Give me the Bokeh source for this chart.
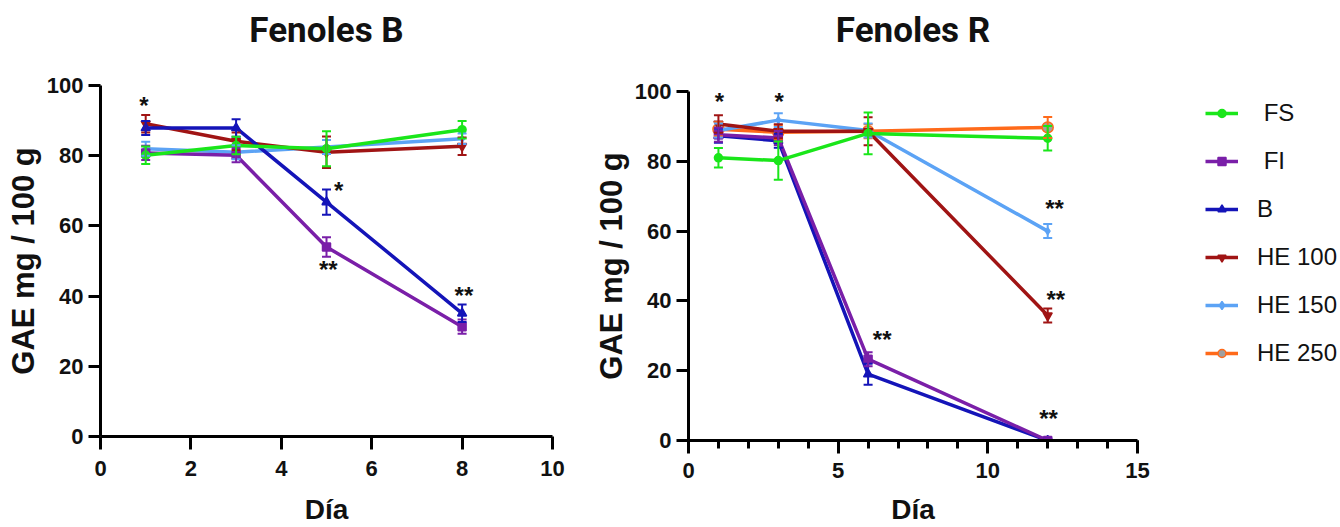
import math
from bokeh.plotting import figure
from bokeh.models import (ColumnDataSource, Whisker, TeeHead, Legend, LegendItem,
                          FixedTicker, SingleIntervalTicker, Range1d)
from bokeh.layouts import row, column
from bokeh.embed import file_html
from bokeh.resources import INLINE
from bokeh.core.properties import value

# ---------------- data ----------------
series = ["FS", "FI", "B", "HE 100", "HE 150", "HE 250"]
legend_labels = [" FS", " FI", "B", "HE 100", "HE 150", "HE 250"]

# Fenoles B (days 1, 3, 5, 8)
days_b = [1, 3, 5, 8]
fs_b = [80.1, 82.9, 82.0, 87.4]
fs_b_err = [2.5, 2.5, 5.0, 2.5]
fi_b = [80.8, 80.1, 54.0, 31.3]
fi_b_err = [2.0, 2.0, 2.8, 2.0]
b_b = [87.9, 87.9, 66.8, 35.1]
b_b_err = [2.0, 2.5, 3.6, 2.5]
he100_b = [89.1, 84.1, 81.0, 82.7]
he100_b_err = [2.5, 2.5, 4.5, 2.5]
he150_b = [82.0, 81.0, 82.5, 84.8]
he150_b_err = [2.0, 2.0, 2.0, 1.5]

# Fenoles R (days 1, 3, 6, 12)
days_r = [1, 3, 6, 12]
fs_r = [81.0, 80.2, 88.0, 86.6]
fs_r_err = [2.8, 5.5, 6.0, 3.5]
fi_r = [87.6, 86.7, 23.3, 0.0]
fi_r_err = [2.0, 2.0, 2.0, 0.5]
b_r = [87.3, 85.9, 19.0, 0.0]
b_r_err = [2.0, 2.0, 3.0, 0.5]
he100_r = [90.7, 88.6, 88.6, 35.8]
he100_r_err = [2.5, 2.0, 4.0, 2.0]
he150_r = [88.8, 91.8, 88.8, 60.0]
he150_r_err = [2.0, 2.0, 2.0, 2.0]
he250_r = [89.2, 88.3, 88.6, 89.7]
he250_r_err = [2.0, 2.0, 2.0, 3.0]

# significance marks
marks_b_text = ["*", "*", "**", "**"]
marks_b_x = [0.96, 5.27, 5.04, 8.04]
marks_b_y = [94.2, 70.0, 47.6, 40.2]
marks_r_text = ["*", "*", "**", "**", "**", "**"]
marks_r_x = [1.03, 3.03, 12.23, 12.27, 6.47, 12.03]
marks_r_y = [97.2, 97.2, 66.6, 40.3, 28.9, 6.3]

colors = {"FS": "#1AE61A", "FI": "#7A1FA8", "B": "#1414B8",
          "HE 100": "#A01414", "HE 150": "#5CA3F5", "HE 250": "#FF6A1A"}
markers = {"FS": ("circle", 8), "FI": ("square", 8), "B": ("triangle", 9),
           "HE 100": ("inverted_triangle", 9), "HE 150": ("diamond", 7),
           "HE 250": ("circle", 11)}

FONT = "Liberation Sans"
TOP_H = 70
LOW_H = 527 - TOP_H


def blank(p):
    p.xgrid.visible = False
    p.ygrid.visible = False
    p.outline_line_color = None


def title_fig(text, width, left, right):
    t = figure(width=width, height=TOP_H, title=text, x_range=Range1d(0, 1),
               y_range=Range1d(0, 1), x_axis_location=None, y_axis_location=None,
               output_backend="svg", toolbar_location=None,
               min_border_left=left, min_border_right=right,
               min_border_top=0, min_border_bottom=0)
    blank(t)
    t.title.text_font = "Roboto"
    t.title.text_font_size = "35px"
    t.title.text_font_style = "bold"
    t.title.align = "center"
    t.title.text_color = "#111111"
    t.title.standoff = 15
    return t


def style(p, xticker, tick_std, lab_std):
    blank(p)
    for ax in (p.xaxis[0], p.yaxis[0]):
        ax.axis_line_width = 3
        ax.major_tick_line_width = 3
        ax.minor_tick_line_width = 3
        ax.major_tick_in = 0
        ax.minor_tick_in = 0
        ax.major_label_text_font = FONT
        ax.major_label_text_font_size = "22px"
        ax.major_label_text_font_style = "bold"
        ax.major_label_text_color = "#111111"
        ax.axis_label_text_font = FONT
        ax.axis_label_text_font_style = "bold"
        ax.axis_label_text_color = "#111111"
    p.yaxis[0].ticker = FixedTicker(ticks=[0, 20, 40, 60, 80, 100])
    p.yaxis[0].major_tick_out = 12
    p.yaxis[0].major_label_standoff = 5
    p.yaxis[0].axis_label = "GAE mg / 100 g"
    p.yaxis[0].axis_label_text_font_size = "31px"
    p.yaxis[0].axis_label_standoff = 3
    p.yaxis[0].minor_tick_line_color = None
    p.xaxis[0].ticker = xticker
    p.xaxis[0].major_tick_out = 13
    p.xaxis[0].minor_tick_out = 8
    p.xaxis[0].major_label_standoff = tick_std
    p.xaxis[0].axis_label = "Día"
    p.xaxis[0].axis_label_text_font_size = "28px"
    p.xaxis[0].axis_label_standoff = lab_std


def draw_series(p, name, xs, ys, errs):
    c = colors[name]
    lower = [y - e for y, e in zip(ys, errs)]
    upper = [y + e for y, e in zip(ys, errs)]
    src = ColumnDataSource(dict(x=xs, y=ys, lower=lower, upper=upper))
    w = Whisker(source=src, base="x", upper="upper", lower="lower",
                line_color=c, line_width=2, level="glyph",
                upper_head=TeeHead(size=9, line_color=c, line_width=2),
                lower_head=TeeHead(size=9, line_color=c, line_width=2))
    p.add_layout(w)
    p.line("x", "y", source=src, line_color=c, line_width=3.5)
    m, s = markers[name]
    fill = "#A0A0A0" if name == "HE 250" else c
    p.scatter("x", "y", source=src, marker=m, size=s, fill_color=fill,
              line_color=c, line_width=1.5)


def draw_marks(p, xs, ys, texts):
    src = ColumnDataSource(dict(x=xs, y=ys, t=texts))
    p.text("x", "y", text="t", source=src, text_align="center",
           text_baseline="middle", text_font=value(FONT),
           text_font_size="24px", text_font_style="bold", text_color="#111111")


# ---------------- left: Fenoles B ----------------
t1 = title_fig("Fenoles B", 590, 100, 38)
p1 = figure(width=590, height=LOW_H, x_range=Range1d(0, 10), y_range=Range1d(0, 100),
            output_backend="svg", toolbar_location=None,
            min_border_left=100, min_border_right=38, min_border_top=85 - TOP_H,
            min_border_bottom=90)
style(p1, SingleIntervalTicker(interval=2, num_minor_ticks=0), 11, 15)
p1.xaxis[0].minor_tick_line_color = None

left_data = [("HE 150", he150_b, he150_b_err), ("HE 100", he100_b, he100_b_err),
             ("FI", fi_b, fi_b_err), ("B", b_b, b_b_err), ("FS", fs_b, fs_b_err)]
for name, ys, es in left_data:
    draw_series(p1, name, days_b, ys, es)
draw_marks(p1, marks_b_x, marks_b_y, marks_b_text)

# ---------------- right: Fenoles R ----------------
t2 = title_fig("Fenoles R", 575, 95, 28)
p2 = figure(width=575, height=LOW_H, x_range=Range1d(0, 15), y_range=Range1d(0, 100),
            output_backend="svg", toolbar_location=None,
            min_border_left=95, min_border_right=28, min_border_top=91 - TOP_H,
            min_border_bottom=86)
style(p2, SingleIntervalTicker(interval=5, num_minor_ticks=5), 9, 13)

right_data = {"HE 250": (he250_r, he250_r_err), "HE 150": (he150_r, he150_r_err),
              "HE 100": (he100_r, he100_r_err), "B": (b_r, b_r_err),
              "FI": (fi_r, fi_r_err), "FS": (fs_r, fs_r_err)}
for name in ["HE 250", "HE 150", "HE 100", "B", "FI", "FS"]:
    ys, es = right_data[name]
    draw_series(p2, name, days_r, ys, es)
draw_marks(p2, marks_r_x, marks_r_y, marks_r_text)

# ---------------- legend panel ----------------
p3 = figure(width=175, height=527, x_range=Range1d(0, 1), y_range=Range1d(0, 1),
            x_axis_location=None, y_axis_location=None, output_backend="svg",
            toolbar_location=None, min_border_left=0, min_border_right=0,
            min_border_top=0, min_border_bottom=0)
blank(p3)
items = []
for name, lab in zip(series, legend_labels):
    c = colors[name]
    src = ColumnDataSource(dict(x=[math.nan], y=[math.nan]))
    lr = p3.line("x", "y", source=src, line_color=c, line_width=3.5)
    m, s = markers[name]
    fill = "#A0A0A0" if name == "HE 250" else c
    sr = p3.scatter("x", "y", source=src, marker=m, size=s, fill_color=fill,
                    line_color=c, line_width=1.5)
    items.append(LegendItem(label=lab, renderers=[lr, sr]))
legend = Legend(items=items, location=(40, 160), orientation="vertical",
                label_text_font=FONT, label_text_font_size="24px",
                label_text_color="#111111", glyph_width=33, glyph_height=20,
                label_height=20, spacing=20, label_standoff=19, padding=0,
                margin=0, border_line_color=None, background_fill_alpha=0)
p3.add_layout(legend, "center")

layout = row(column(t1, p1), column(t2, p2), p3)
open("out.html", "w").write(file_html(layout, INLINE))
